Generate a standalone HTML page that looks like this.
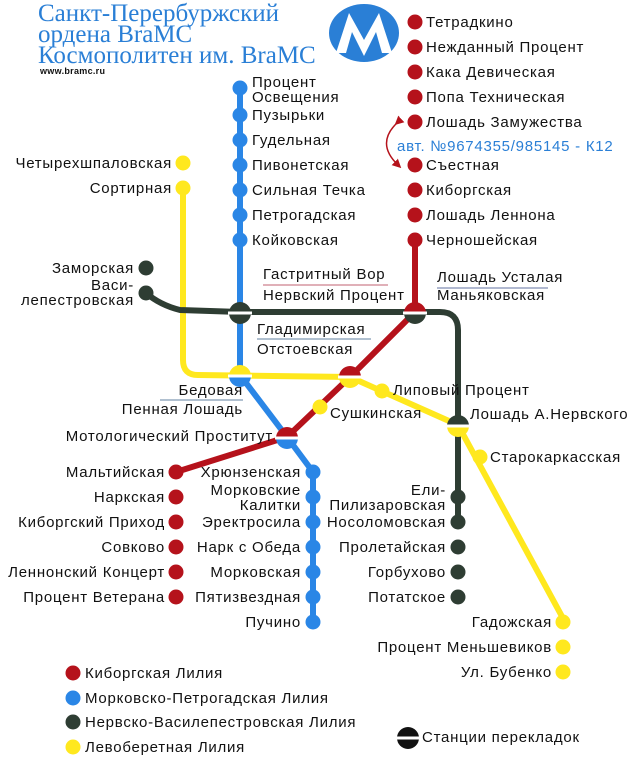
<!DOCTYPE html>
<html><head><meta charset="utf-8"><style>
html,body{margin:0;padding:0;background:#fff;}
svg{display:block;}
text{font-family:"Liberation Sans","DejaVu Sans",sans-serif;font-size:15px;letter-spacing:0.75px;fill:#111;}
.h{font-family:"Liberation Serif",serif;font-size:25px;letter-spacing:0;fill:#2a7fd6;}
</style></head><body>
<svg width="640" height="768" viewBox="0 0 640 768" xmlns="http://www.w3.org/2000/svg">
<defs>
<marker id="ah" markerWidth="6" markerHeight="6" refX="3" refY="3" orient="auto"><path d="M0,0 L6,3 L0,6 z" fill="#b5121b"/></marker>
</defs>
<text class="h" x="38" y="21">Санкт-Перербуржский</text>
<text class="h" x="38" y="42">ордена BraMC</text>
<text class="h" x="38" y="63">Космополитен им. BraMC</text>
<text x="40" y="74" style="font-size:9px;letter-spacing:0.3px;font-weight:bold">www.bramc.ru</text>
<ellipse cx="364" cy="33" rx="35" ry="29" fill="#2a7fd6"/>
<path d="M336,53 L349,13 L364,40 L379,13 L392,53 L382,53 L376,32 L364,56 L352,32 L346,53 Z" fill="#fff"/>

<g fill="none" stroke-width="6" stroke-linejoin="round">
<path d="M183,188 L183,360 Q183,375 198,375 L350,377 L458,425 L565,622" stroke="#ffe81e"/>
<path d="M146,293 Q160,305 180,310 L240,312 L440,312 Q458,312 458,330 L458,522" stroke="#2e3d33"/>
<path d="M240,88 L240,375 L287,437 L313,472 L313,622" stroke="#2a86e6"/>
<path d="M415,240 L415,312 L350,377 L287,437 L176,472" stroke="#b5121b"/>
</g>

<g fill="#b5121b">
<circle cx="415" cy="22" r="7.5"/><circle cx="415" cy="47" r="7.5"/><circle cx="415" cy="72" r="7.5"/><circle cx="415" cy="97" r="7.5"/><circle cx="415" cy="122" r="7.5"/><circle cx="415" cy="165" r="7.5"/><circle cx="415" cy="190" r="7.5"/><circle cx="415" cy="215" r="7.5"/><circle cx="415" cy="240" r="7.5"/>
<circle cx="176" cy="472" r="7.5"/><circle cx="176" cy="497" r="7.5"/><circle cx="176" cy="522" r="7.5"/><circle cx="176" cy="547" r="7.5"/><circle cx="176" cy="572" r="7.5"/><circle cx="176" cy="597" r="7.5"/>
<circle cx="73" cy="673" r="7.5"/>
</g>
<g fill="#2a86e6">
<circle cx="240" cy="88" r="7.5"/><circle cx="240" cy="115" r="7.5"/><circle cx="240" cy="140" r="7.5"/><circle cx="240" cy="165" r="7.5"/><circle cx="240" cy="190" r="7.5"/><circle cx="240" cy="215" r="7.5"/><circle cx="240" cy="240" r="7.5"/>
<circle cx="313" cy="472" r="7.5"/><circle cx="313" cy="497" r="7.5"/><circle cx="313" cy="522" r="7.5"/><circle cx="313" cy="547" r="7.5"/><circle cx="313" cy="572" r="7.5"/><circle cx="313" cy="597" r="7.5"/><circle cx="313" cy="622" r="7.5"/>
<circle cx="73" cy="698" r="7.5"/>
</g>
<g fill="#2e3d33">
<circle cx="146" cy="268" r="7.5"/><circle cx="146" cy="293" r="7.5"/>
<circle cx="458" cy="497" r="7.5"/><circle cx="458" cy="522" r="7.5"/><circle cx="458" cy="547" r="7.5"/><circle cx="458" cy="572" r="7.5"/><circle cx="458" cy="597" r="7.5"/>
<circle cx="73" cy="722" r="7.5"/>
</g>
<g fill="#ffe81e">
<circle cx="183" cy="163" r="7.5"/><circle cx="183" cy="188" r="7.5"/>
<circle cx="320" cy="407" r="7.5"/><circle cx="382" cy="391" r="7.5"/><circle cx="480" cy="457" r="7.5"/>
<circle cx="563" cy="622" r="7.5"/><circle cx="563" cy="647" r="7.5"/><circle cx="563" cy="672" r="7.5"/>
<circle cx="73" cy="747" r="7.5"/>
</g>

<g>
<path d="M229,313 a11,11 0 0 1 22,0 z" fill="#2e3d33"/><path d="M229,313 a11,11 0 0 0 22,0 z" fill="#2e3d33"/><rect x="228" y="311.5" width="24" height="3" fill="#fff"/>
<path d="M404,313 a11,11 0 0 1 22,0 z" fill="#b5121b"/><path d="M404,313 a11,11 0 0 0 22,0 z" fill="#2e3d33"/><rect x="403" y="311.5" width="24" height="3" fill="#fff"/>
<path d="M229,376 a11,11 0 0 1 22,0 z" fill="#ffe81e"/><path d="M229,376 a11,11 0 0 0 22,0 z" fill="#2a86e6"/><rect x="228" y="374.5" width="24" height="3" fill="#fff"/>
<path d="M339,377 a11,11 0 0 1 22,0 z" fill="#b5121b"/><path d="M339,377 a11,11 0 0 0 22,0 z" fill="#ffe81e"/><rect x="338" y="375.5" width="24" height="3" fill="#fff"/>
<path d="M276,438 a11,11 0 0 1 22,0 z" fill="#b5121b"/><path d="M276,438 a11,11 0 0 0 22,0 z" fill="#2a86e6"/><rect x="275" y="436.5" width="24" height="3" fill="#fff"/>
<path d="M447,426 a11,11 0 0 1 22,0 z" fill="#2e3d33"/><path d="M447,426 a11,11 0 0 0 22,0 z" fill="#ffe81e"/><rect x="446" y="424.5" width="24" height="3" fill="#fff"/>
<path d="M397,738 a11,11 0 0 1 22,0 z" fill="#111"/><path d="M397,738 a11,11 0 0 0 22,0 z" fill="#111"/><rect x="396" y="736.5" width="24" height="3" fill="#fff"/>
</g>

<g stroke-width="1">
<line x1="263" y1="285" x2="388" y2="285" stroke="#c06070"/>
<line x1="437" y1="288" x2="548" y2="288" stroke="#6070a0"/>
<line x1="257" y1="339" x2="371" y2="339" stroke="#6080a0"/>
<line x1="160" y1="400" x2="243" y2="400" stroke="#6080a0"/>
</g>

<path d="M398,122 Q375,143 398,165" fill="none" stroke="#b5121b" stroke-width="1.5" marker-start="url(#ah)" marker-end="url(#ah)"/>

<text x="426" y="27">Тетрадкино</text>
<text x="426" y="52">Нежданный Процент</text>
<text x="426" y="77">Кака Девическая</text>
<text x="426" y="102">Попа Техническая</text>
<text x="426" y="127">Лошадь Замужества</text>
<text x="397" y="151" style="fill:#2a7fd6">авт. №9674355/985145 - К12</text>
<text x="426" y="170">Съестная</text>
<text x="426" y="195">Киборгская</text>
<text x="426" y="220">Лошадь Леннона</text>
<text x="426" y="245">Черношейская</text>

<text x="252" y="87">Процент</text>
<text x="252" y="102">Освещения</text>
<text x="252" y="120">Пузырьки</text>
<text x="252" y="145">Гудельная</text>
<text x="252" y="170">Пивонетская</text>
<text x="252" y="195">Сильная Течка</text>
<text x="252" y="220">Петрогадская</text>
<text x="252" y="245">Койковская</text>

<text x="172" y="168" text-anchor="end">Четырехшпаловская</text>
<text x="172" y="193" text-anchor="end">Сортирная</text>
<text x="134" y="273" text-anchor="end">Заморская</text>
<text x="134" y="290" text-anchor="end">Васи-</text>
<text x="134" y="305" text-anchor="end">лепестровская</text>

<text x="263" y="279">Гастритный Вор</text>
<text x="263" y="300">Нервский Процент</text>
<text x="437" y="282">Лошадь Усталая</text>
<text x="437" y="300">Маньяковская</text>
<text x="257" y="334">Гладимирская</text>
<text x="257" y="354">Отстоевская</text>
<text x="243" y="395" text-anchor="end">Бедовая</text>
<text x="243" y="414" text-anchor="end">Пенная Лошадь</text>
<text x="273" y="441" text-anchor="end">Мотологический Проститут</text>
<text x="393" y="395">Липовый Процент</text>
<text x="330" y="418">Сушкинская</text>
<text x="470" y="419">Лошадь А.Нервского</text>
<text x="490" y="462">Старокаркасская</text>

<text x="165" y="477" text-anchor="end">Мальтийская</text>
<text x="165" y="502" text-anchor="end">Наркская</text>
<text x="165" y="527" text-anchor="end">Киборгский Приход</text>
<text x="165" y="552" text-anchor="end">Совково</text>
<text x="165" y="577" text-anchor="end">Леннонский Концерт</text>
<text x="165" y="602" text-anchor="end">Процент Ветерана</text>

<text x="301" y="477" text-anchor="end">Хрюнзенская</text>
<text x="301" y="495" text-anchor="end">Морковские</text>
<text x="301" y="510" text-anchor="end">Калитки</text>
<text x="301" y="527" text-anchor="end">Эректросила</text>
<text x="301" y="552" text-anchor="end">Нарк с Обеда</text>
<text x="301" y="577" text-anchor="end">Морковская</text>
<text x="301" y="602" text-anchor="end">Пятизвездная</text>
<text x="301" y="627" text-anchor="end">Пучино</text>

<text x="446" y="495" text-anchor="end">Ели-</text>
<text x="446" y="510" text-anchor="end">Пилизаровская</text>
<text x="446" y="527" text-anchor="end">Носоломовская</text>
<text x="446" y="552" text-anchor="end">Пролетайская</text>
<text x="446" y="577" text-anchor="end">Горбухово</text>
<text x="446" y="602" text-anchor="end">Потатское</text>

<text x="552" y="627" text-anchor="end">Гадожская</text>
<text x="552" y="652" text-anchor="end">Процент Меньшевиков</text>
<text x="552" y="677" text-anchor="end">Ул. Бубенко</text>

<text x="85" y="678">Киборгская Лилия</text>
<text x="85" y="703">Морковско-Петрогадская Лилия</text>
<text x="85" y="727">Нервско-Василепестровская Лилия</text>
<text x="85" y="752">Левоберетная Лилия</text>
<text x="422" y="742">Станции перекладок</text>
</svg>
</body></html>
